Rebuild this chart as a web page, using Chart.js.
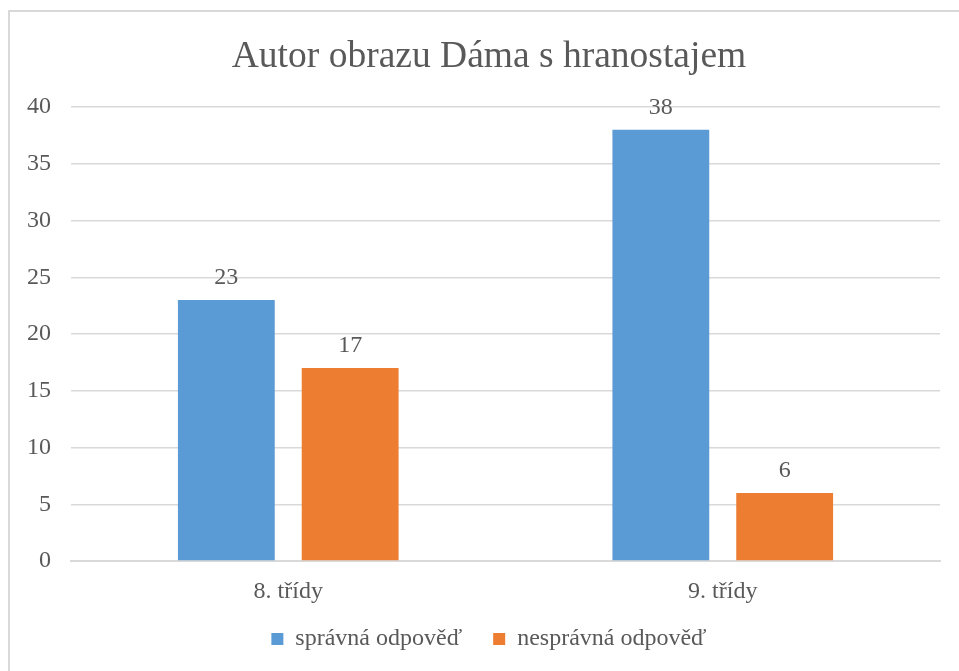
<!DOCTYPE html>
<html>
<head>
<meta charset="utf-8">
<script src="https://cdn.jsdelivr.net/npm/chart.js@4/dist/chart.umd.min.js"></script>
<style>
  html, body { margin: 0; padding: 0; background: #fff; overflow: hidden; }
  #frame {
    position: absolute; left: 8px; top: 10px;
    width: 980px; height: 700px;
    border: 2px solid #d9d9d9; box-sizing: border-box;
  }
  #wrap { position: absolute; left: 0; top: 0; width: 959px; height: 671px; }
</style>
</head>
<body>
<div id="frame"></div>
<div id="wrap"><canvas id="chart" width="959" height="671"></canvas></div>
<script>
// data
const categories = ["8. třídy", "9. třídy"];
const correct = [23, 38];
const wrong = [17, 6];
const seriesNames = ["správná odpověď", "nesprávná odpověď"];
const yTicks = [0, 5, 10, 15, 20, 25, 30, 35, 40];

const TEXT = "#595959";
const FONT = '"Liberation Serif", Tinos, "Times New Roman", "DejaVu Serif", serif';

/* =========================
   VALUE LABELS ABOVE BARS
========================= */
const valueLabels = {
  id: "valueLabels",
  afterLayout(chart) {
    // let axis labels draw outside their (tight) boxes
    chart.scales.x.bottom = chart.height;
    chart.scales.y.left = 0;
  },
  afterDatasetsDraw(chart) {
    const ctx = chart.ctx;
    ctx.save();
    ctx.font = "24px " + FONT;
    ctx.fillStyle = TEXT;
    ctx.textAlign = "center";
    ctx.textBaseline = "middle";
    chart.data.datasets.forEach((ds, i) => {
      chart.getDatasetMeta(i).data.forEach((bar, j) => {
        ctx.fillText(ds.data[j], bar.x, bar.y - 22);
      });
    });
    ctx.restore();
  }
};

new Chart(document.getElementById("chart"), {
  type: "bar",
  data: {
    labels: categories,
    datasets: [
      {
        label: seriesNames[0],
        data: correct,
        backgroundColor: "#5b9bd5",
        borderWidth: 0
      },
      {
        label: seriesNames[1],
        data: wrong,
        backgroundColor: "#ed7d31",
        borderWidth: 0
      }
    ]
  },
  options: {
    responsive: false,
    animation: false,
    devicePixelRatio: 1,
    layout: { padding: { left: 38, right: 19, top: 0, bottom: 10 } },
    datasets: {
      bar: { categoryPercentage: 0.57, barPercentage: 0.782 }
    },
    plugins: {
      title: {
        display: true,
        text: "Autor obrazu Dáma s hranostajem",
        color: TEXT,
        font: { family: FONT, size: 37.5, weight: "normal" },
        padding: { top: 35, bottom: 27 }
      },
      legend: {
        position: "bottom",
        labels: {
          color: TEXT,
          font: { family: FONT, size: 24 },
          boxWidth: 12,
          boxHeight: 12,
          padding: 31
        }
      },
      tooltip: { enabled: false }
    },
    scales: {
      x: {
        afterFit(scale) { scale.height = 35; },
        grid: { display: false, drawTicks: false },
        border: { color: "#d9d9d9", width: 2 },
        ticks: {
          color: TEXT,
          font: { family: FONT, size: 24 },
          padding: 16
        }
      },
      y: {
        min: 0,
        max: 40,
        afterBuildTicks(scale) {
          scale.ticks = yTicks.map(v => ({ value: v }));
        },
        afterFit(scale) { scale.width = 33; },
        grid: { color: "#d9d9d9", lineWidth: 1.5, drawTicks: false },
        border: { display: false },
        ticks: {
          color: TEXT,
          font: { family: FONT, size: 24 },
          padding: 20
        }
      }
    }
  },
  plugins: [valueLabels]
});
</script>
</body>
</html>
